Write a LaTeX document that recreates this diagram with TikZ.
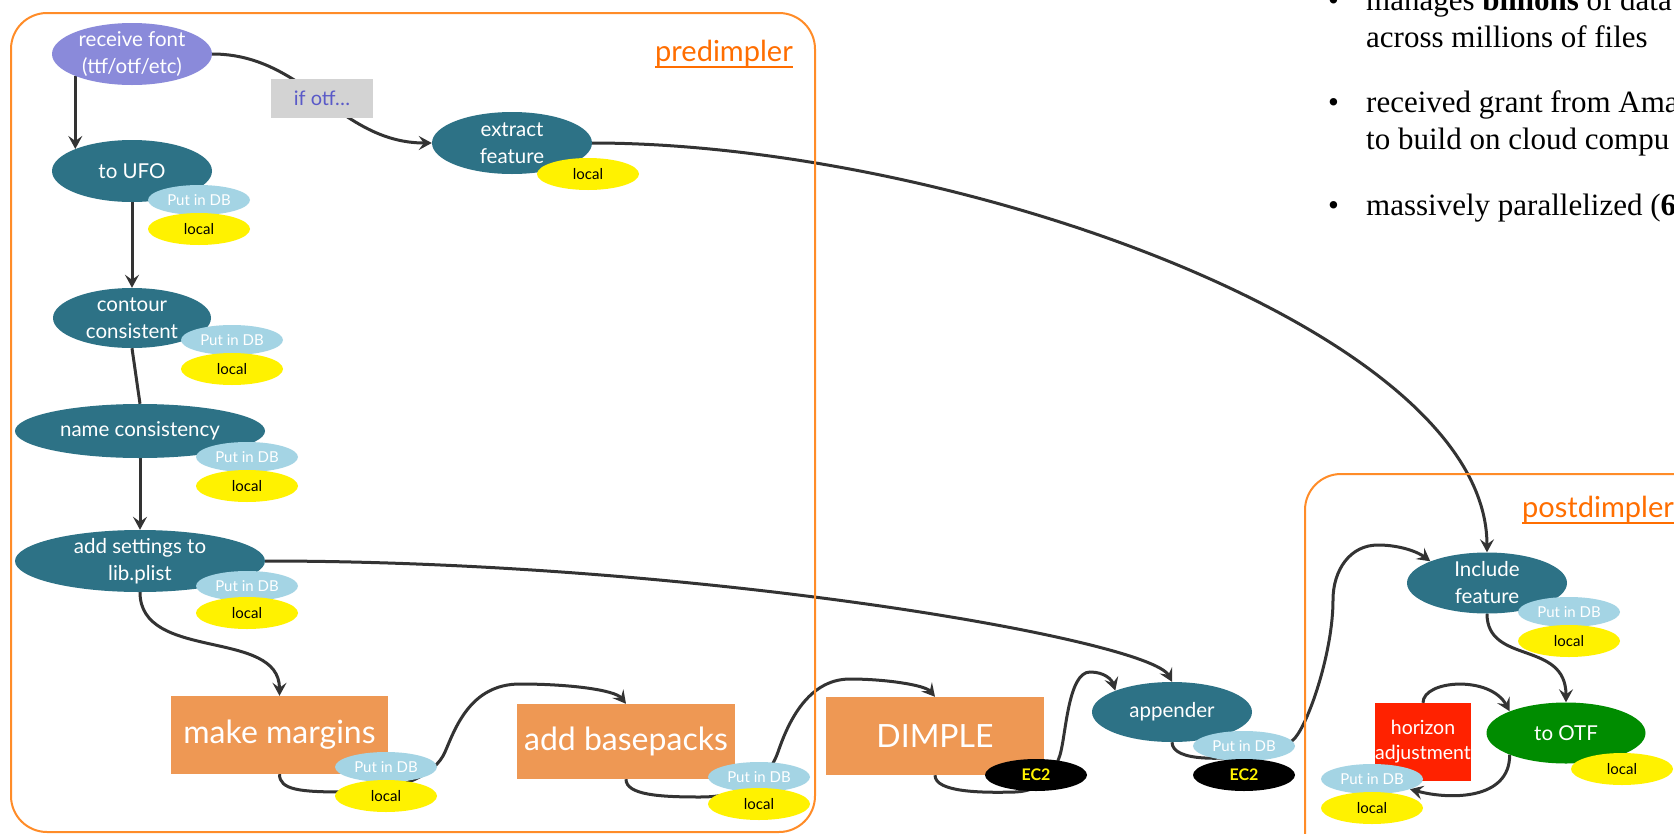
\documentclass[tikz,border=0pt]{standalone}
\usepackage{fontspec}
\setmainfont{Lato}
\newfontfamily\bulletfont{Liberation Serif}
\usetikzlibrary{shapes.geometric,arrows.meta}
\pgfdeclarelayer{back}
\pgfdeclarelayer{bg}
\pgfsetlayers{back,bg,main}
\definecolor{cTeal}{RGB}{45,114,134}
\definecolor{cLav}{RGB}{138,138,218}
\definecolor{cDB}{RGB}{164,212,228}
\definecolor{cOrange}{RGB}{238,152,84}
\definecolor{cRed}{RGB}{255,34,0}
\definecolor{cGreen}{RGB}{0,140,0}
\definecolor{cGray}{RGB}{211,211,211}
\definecolor{cIf}{RGB}{90,90,200}
\definecolor{cLine}{RGB}{51,51,51}
\definecolor{cFrame}{RGB}{255,140,40}
\definecolor{cLbl}{RGB}{255,110,0}
\begin{document}
\begin{tikzpicture}[x=1pt,y=-1pt,
  task/.style={ellipse, fill=cTeal, text=white, inner xsep=0pt, inner ysep=-6pt, align=center,
    font=\fontsize{20.5}{27}\selectfont},
  dbb/.style={ellipse, fill=cDB, text=white, minimum width=102pt, minimum height=30pt, inner sep=0pt,
    font=\fontsize{15}{18}\selectfont},
  loc/.style={ellipse, fill=yellow, text=black, minimum width=102pt, minimum height=32pt, inner sep=0pt,
    font=\fontsize{15}{18}\selectfont},
  ectwo/.style={ellipse, fill=black, text=yellow, minimum width=102pt, minimum height=32pt, inner sep=0pt,
    font=\bfseries\fontsize{16}{18}\selectfont},
  boxtask/.style={rectangle, fill=cOrange, text=white, inner sep=0pt, font=\fontsize{32}{38}\selectfont},
  conn/.style={draw=cLine, line width=3pt, -{Stealth[length=13pt,width=14pt,inset=5pt]}},
  plainline/.style={draw=cLine, line width=3pt},
  frame/.style={draw=cFrame, line width=2pt, rounded corners=36pt},
  lbl/.style={text=cLbl, inner sep=0pt, anchor=base west, font=\fontsize{29}{34}\selectfont},
  bul/.style={inner sep=0pt, anchor=base west, font=\bulletfont\fontsize{31}{37}\selectfont}
]
\useasboundingbox (0,0) rectangle (1674,833);
\begin{pgfonlayer}{back}
\fill[white] (0,0) rectangle (1674,833);
\end{pgfonlayer}
\clip (0,0) rectangle (1674,833);

% frames
\draw[frame] (11,13) rectangle (815,832);
\draw[frame] (1305,474) rectangle (1760,900);
\node[lbl] (prelbl) at (655,61) {predimpler};
\draw[cLbl, line width=2pt] ([yshift=-1pt]prelbl.south west) -- ([yshift=-1pt]prelbl.south east);
\node[lbl] (postlbl) at (1522,517) {postdimpler};
\draw[cLbl, line width=2pt] ([yshift=-1pt]postlbl.south west) -- ([yshift=-1pt]postlbl.south east);

% bullet text
\node[bul] (d1) at (1328,10) {•};
\node[bul] (t1) at (1366,10) {manages \textbf{billions} of data};
\node[bul] (t2) at (1366,47) {across millions of files};
\node[bul] (d2) at (1328,112) {•};
\node[bul] (t3) at (1366,112) {received grant from Ama};
\node[bul] (t4) at (1366,149) {to build on cloud compu};
\node[bul] (d3) at (1328,215) {•};
\node[bul] (t5) at (1366,215) {massively parallelized (\textbf{6}};

% predimpler nodes
\node[task, fill=cLav, minimum width=160pt, minimum height=62pt] (recv) at (132,54) {receive font\\(ttf/otf/etc)};
\node[rectangle, fill=cGray, minimum width=102pt, minimum height=39pt, inner sep=0pt, text=cIf,
  font=\fontsize{20}{24}\selectfont] (ifotf) at (322,98.5) {if otf…};
\node[task, minimum width=160pt, minimum height=62pt] (extract) at (512,143) {extract\\feature};
\node[loc] (exloc) at (588,174) {local};

\node[task, minimum width=160pt, minimum height=62pt] (ufo) at (132,171) {to UFO};
\node[dbb] (ufodb) at (199,200) {Put in DB};
\node[loc] (ufoloc) at (199,229) {local};

\node[task, minimum width=158pt, minimum height=60pt] (contour) at (132,318) {contour\\consistent};
\node[dbb] (condb) at (232,340) {Put in DB};
\node[loc] (conloc) at (232,369) {local};

\node[task, minimum width=250pt, minimum height=54pt] (name) at (140,431) {name consistency};
\node[dbb] (namedb) at (247,457) {Put in DB};
\node[loc] (nameloc) at (247,486) {local};

\node[task, minimum width=250pt, minimum height=62pt] (addset) at (140,561) {add settings to\\lib.plist};
\node[dbb] (adddb) at (247,586) {Put in DB};
\node[loc] (addloc) at (247,613) {local};

\node[boxtask, minimum width=217pt, minimum height=78pt] (mm) at (279.5,735) {make margins};
\node[dbb] (mmdb) at (386,767) {Put in DB};
\node[loc] (mmloc) at (386,796) {local};

\node[boxtask, minimum width=218pt, minimum height=75pt] (abp) at (626,741.5) {add basepacks};
\node[dbb] (abpdb) at (759,777) {Put in DB};
\node[loc] (abploc) at (759,804) {local};

\node[boxtask, minimum width=218pt, minimum height=78pt] (dimple) at (935,736) {DIMPLE};
\node[ectwo] (dimec) at (1036,775) {EC2};

\node[task, minimum width=160pt, minimum height=60pt] (appender) at (1172,712) {appender};
\node[dbb] (appdb) at (1244,746) {Put in DB};
\node[ectwo] (appec) at (1244,775) {EC2};

% postdimpler nodes
\node[task, minimum width=160pt, minimum height=61pt] (include) at (1487,583) {Include\\feature};
\node[dbb] (incdb) at (1569,612) {Put in DB};
\node[loc] (incloc) at (1569,641) {local};

\node[task, fill=cGreen, minimum width=159pt, minimum height=61pt] (otf) at (1566,733) {to OTF};
\node[loc] (otfloc) at (1622,769) {local};

\node[rectangle, fill=cRed, minimum width=96pt, minimum height=78pt, inner sep=0pt, text=white, align=center,
  font=\fontsize{19.5}{25}\selectfont] (hor) at (1423,742) {horizon\\adjustment};
\node[dbb] (hordb) at (1372,779) {Put in DB};
\node[loc] (horloc) at (1372,808) {local};

% connectors
\begin{pgfonlayer}{bg}
\draw[conn] (recv.south west) -- (ufo.north west);
\draw[conn] (recv.east) .. controls (305,54) and (339,143) .. (extract.west);
\draw[conn] (ufo.south) -- (contour.north);
\draw[plainline] (contour.south) -- (name.north);
\draw[conn] (name.south) -- (addset.north);
\draw[conn] (addset.south) .. controls (140,662) and (279.5,628) .. (mm.north);
\draw[conn] (extract.east) .. controls (950,143) and (1487,330) .. (include.north);
\draw[conn] (addset.east) .. controls (700,561) and (1150,640) .. (appender.north);
\draw[conn] (mm.south) .. controls (279.5,790) and (300,792) .. (345,792)
  .. controls (400,792) and (435,775) .. (445,752)
  .. controls (455,729) and (470,684) .. (520,684)
  .. controls (570,684) and (615,690) .. (abp.north);
\draw[conn] (abp.south) .. controls (626,795) and (660,797) .. (700,797)
  .. controls (750,797) and (770,775) .. (778,752)
  .. controls (786,729) and (805,679) .. (850,679)
  .. controls (885,679) and (925,685) .. (dimple.north);
\draw[conn] (dimple.south) .. controls (935,792) and (980,793) .. (1015,792)
  .. controls (1045,791) and (1055,770) .. (1060,755)
  .. controls (1066,735) and (1068,672) .. (1090,672)
  .. controls (1105,672) and (1112,680) .. (appender.north west);
\draw[conn] (appender.south) .. controls (1172,752) and (1185,757) .. (1205,758)
  .. controls (1240,760) and (1285,750) .. (1295,738)
  .. controls (1310,720) and (1333,650) .. (1333,600)
  .. controls (1333,570) and (1350,545) .. (1378,545)
  .. controls (1400,545) and (1418,552) .. (include.north west);
\draw[conn] (include.south) .. controls (1487,665) and (1566,640) .. (otf.north);
\draw[conn] (hor.north) .. controls (1423,680) and (1490,675) .. (otf.north west);
\draw[conn] (otf.south west) .. controls (1510,800) and (1450,800) .. (hordb.-15);
\end{pgfonlayer}
\end{tikzpicture}
\end{document}
